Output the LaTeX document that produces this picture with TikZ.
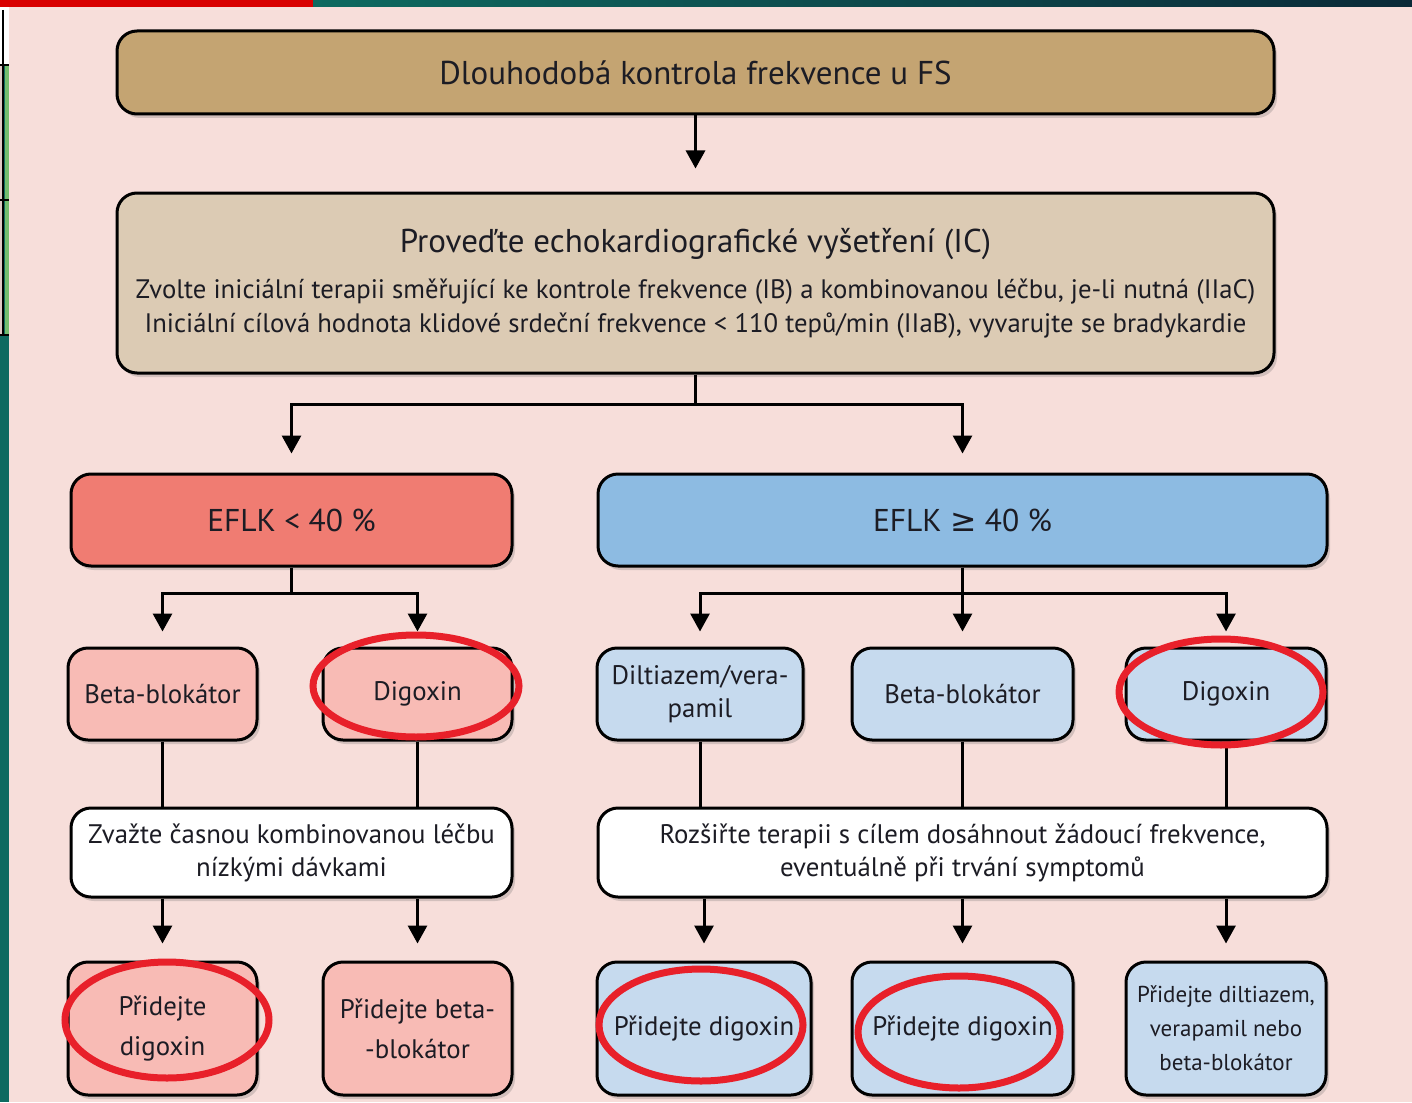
\documentclass[tikz,border=0pt]{standalone}
\usepackage{fontspec}
\setmainfont{PT Sans}
\newfontfamily\symfont{DejaVu Sans}
\usetikzlibrary{arrows.meta,shadows}
\definecolor{bgpink}{HTML}{F7DEDA}
\definecolor{tanhead}{HTML}{C4A472}
\definecolor{tanlight}{HTML}{DCCBB4}
\definecolor{redhead}{HTML}{F07C72}
\definecolor{redbox}{HTML}{F8BBB5}
\definecolor{bluehead}{HTML}{8DBBE2}
\definecolor{bluebox}{HTML}{C6DAEE}
\definecolor{markred}{HTML}{E8202A}
\definecolor{tealside}{HTML}{0E6A60}
\definecolor{navytop}{HTML}{0B2A38}
\definecolor{greenside}{HTML}{74BC6E}
\definecolor{ink}{HTML}{1C1C24}
\newcommand{\fsz}[2]{\fontsize{#1pt}{#2pt}\selectfont}
\begin{document}
\begin{tikzpicture}[x=1pt,y=-1pt,
  box/.style={draw=black,line width=3pt,rounded corners=20pt,inner sep=0pt,align=center,
    text=ink,font=\fsz{26.8}{33},
    drop shadow={shadow xshift=3pt,shadow yshift=-4pt,opacity=0.25,fill=black!60}},
  arr/.style={draw=black,line width=3pt,-{Triangle[width=19pt,length=18pt]}},
  conn/.style={draw=black,line width=3pt},
  ring/.style={draw=markred,line width=7pt}]
  \useasboundingbox (0,0) rectangle (1412,1102);
  \fill[bgpink] (0,0) rectangle (1412,1102);
  \fill[tealside] (0,0) rectangle (9,1102);
  \fill[white] (0,7) rectangle (9,65);
  \fill[bgpink!90!black] (0,65) rectangle (3,335);
  \fill[greenside] (5,65) rectangle (9,335);
  \draw[line width=2pt] (3,10) -- (3,335);
  \foreach \yy in {65,200,335}
    \draw[line width=2pt] (0,\yy) -- (9,\yy);
  \fill[red!85!black] (0,0) rectangle (313,7);
  \shade[left color=tealside,right color=navytop] (313,0) rectangle (1412,7);

  \node[box,fill=tanhead,minimum width=1157pt,minimum height=83pt,font=\fsz{33}{38}]
    (title) at (695.5,72.5) {Dlouhodobá kontrola frekvence u FS};
  \node[box,fill=tanlight,minimum width=1157pt,minimum height=180pt,font=\fsz{26.7}{34}]
    (echo) at (695.5,283) {{\fsz{33}{38}Proveďte echokardiografické vyšetření (IC)}\\[12pt]
    Zvolte iniciální terapii směřující ke kontrole frekvence (IB) a kombinovanou léčbu, je-li nutná (IIaC)\\
    Iniciální cílová hodnota klidové srdeční frekvence < 110 tepů/min (IIaB), vyvarujte se bradykardie};

  \node[box,fill=redhead,minimum width=441pt,minimum height=92pt,font=\fsz{31.5}{36}]
    (efl) at (291.5,520) {EFLK < 40 \%};
  \node[box,fill=bluehead,minimum width=729pt,minimum height=92pt,font=\fsz{31.5}{36}]
    (efh) at (962.5,520) {EFLK {\symfont ≥} 40 \%};

  \node[box,fill=redbox,minimum width=189pt,minimum height=92pt] (bbl) at (162.5,694) {Beta-blokátor};
  \node[box,fill=redbox,minimum width=189pt,minimum height=92pt] (digl) at (417.5,694) {Digoxin};
  \node[box,fill=bluebox,minimum width=206pt,minimum height=92pt] (dil) at (700,694) {Diltiazem/vera-\\pamil};
  \node[box,fill=bluebox,minimum width=221pt,minimum height=92pt] (bbr) at (962.5,694) {Beta-blokátor};
  \node[box,fill=bluebox,minimum width=200pt,minimum height=92pt] (digr) at (1226,694) {Digoxin};

  \node[box,fill=white,minimum width=441pt,minimum height=89pt] (cmbl) at (291.5,852.5)
    {Zvažte časnou kombinovanou léčbu\\nízkými dávkami};
  \node[box,fill=white,minimum width=729pt,minimum height=89pt] (cmbr) at (962.5,852.5)
    {Rozšiřte terapii s cílem dosáhnout žádoucí frekvence,\\eventuálně při trvání symptomů};

  \node[box,fill=redbox,minimum width=189pt,minimum height=133pt,font=\fsz{26.8}{40}]
    (pdl) at (162.5,1028.5) {Přidejte\\digoxin};
  \node[box,fill=redbox,minimum width=189pt,minimum height=133pt,font=\fsz{26.8}{40}]
    (pbl) at (417.5,1028.5) {Přidejte beta-\\-blokátor};
  \node[box,fill=bluebox,minimum width=214pt,minimum height=133pt] (pd1) at (704,1028.5) {Přidejte digoxin};
  \node[box,fill=bluebox,minimum width=221pt,minimum height=133pt] (pd2) at (962.5,1028.5) {Přidejte digoxin};
  \node[box,fill=bluebox,minimum width=200pt,minimum height=133pt,font=\fsz{23}{34}]
    (pdv) at (1226,1028.5) {Přidejte diltiazem,\\verapamil nebo\\beta-blokátor};

  \draw[arr,shorten >=23pt] (title.south) -- (echo.north);
  \draw[arr,shorten >=19pt] (echo.south) -- ++(0,30) -| (efl.north);
  \draw[arr,shorten >=19pt] (echo.south) -- ++(0,30) -| (efh.north);
  \draw[arr,shorten >=15pt] (efl.south) -- ++(0,26) -| (bbl.north);
  \draw[arr,shorten >=15pt] (efl.south) -- ++(0,26) -| (digl.north);
  \draw[arr,shorten >=15pt] (efh.south) -- ++(0,26) -| (dil.north);
  \draw[arr,shorten >=15pt] (efh.south) -- (bbr.north);
  \draw[arr,shorten >=15pt] (efh.south) -- ++(0,26) -| (digr.north);
  \foreach \top/\bot in {bbl/cmbl,digl/cmbl,dil/cmbr,bbr/cmbr,digr/cmbr}
    \draw[conn] (\top.south) -- (\top.south |- \bot.north);
  \foreach \src/\dst in {cmbl/pdl,cmbl/pbl,cmbr/pd1,cmbr/pd2,cmbr/pdv}
    \draw[arr,shorten >=17pt] (\dst.north |- \src.south) -- (\dst.north);

  \draw[ring] (416,686) ellipse [x radius=103pt,y radius=51pt];
  \draw[ring] (1221,692) ellipse [x radius=102pt,y radius=53pt];
  \draw[ring] (167,1020) ellipse [x radius=102pt,y radius=58pt];
  \draw[ring] (701,1025) ellipse [x radius=102pt,y radius=56pt];
  \draw[ring] (959,1032) ellipse [x radius=101pt,y radius=56pt];
\end{tikzpicture}
\end{document}
